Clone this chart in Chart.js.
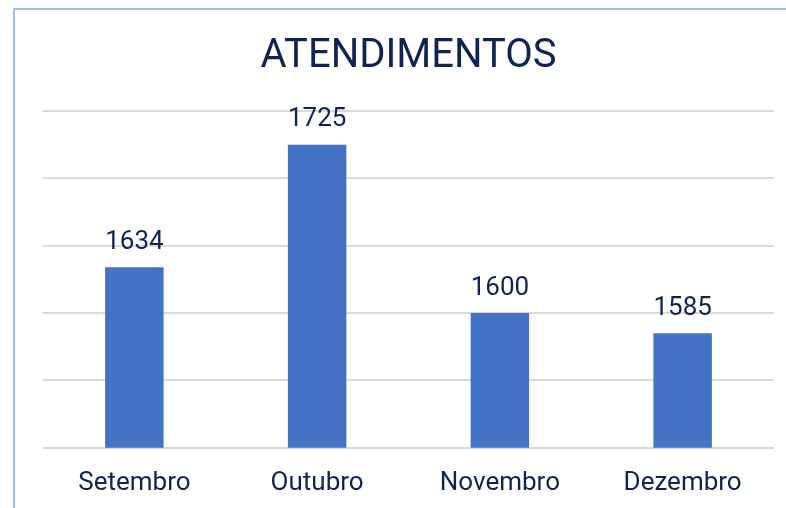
<!DOCTYPE html>
<html>
<head>
<meta charset="utf-8">
<script src="https://cdn.jsdelivr.net/npm/chart.js@4"></script>
<style>
body{margin:0;background:#fff;overflow:hidden;}
#frame{position:absolute;left:13px;top:8px;width:800px;height:520px;border-left:2px solid #9dbcf4;border-top:2px solid #9dbcf4;}
#chart{position:absolute;left:0;top:0;}
</style>
</head>
<body>
<div id="frame"></div>
<canvas id="chart" width="786" height="508"></canvas>
<script>
const months = ["Setembro", "Outubro", "Novembro", "Dezembro"];
const atendimentos = [1634, 1725, 1600, 1585];
const yMin = 1500;
const yMax = 1750;
const yStep = 50;

const navy = "#0f2454";

// draws the number above each bar
const valueLabels = {
id: "valueLabels",
afterDatasetsDraw(chart){
const c = chart.ctx;
const meta = chart.getDatasetMeta(0);
c.save();
c.font = "26px Roboto";
c.fillStyle = navy;
c.textAlign = "center";
c.textBaseline = "bottom";
meta.data.forEach((bar, i) => {
c.fillText(String(atendimentos[i]), bar.x, bar.y - 12);
});
c.restore();
}
};

const ctx =
document
.getElementById("chart");

const chart =
new Chart(ctx,{
type:"bar",
data:{
labels:months,
datasets:[{
label:"Atendimentos",
data:atendimentos,
backgroundColor:"#4472c4",
barPercentage:1,
categoryPercentage:0.32
}]
},
options:{
responsive:false,
animation:false,
layout:{
padding:{left:43,right:12,top:0,bottom:-3}
},
plugins:{
legend:{display:false},
tooltip:{enabled:false},
title:{
display:true,
text:"ATENDIMENTOS",
color:navy,
font:{family:"Roboto",size:40,weight:"normal"},
padding:{top:33,bottom:30}
}
},
scales:{
x:{
grid:{display:false},
border:{display:false},
ticks:{
color:navy,
font:{family:"Roboto",size:26},
padding:12
}
},
y:{
min:yMin,
max:yMax,
ticks:{display:false,stepSize:yStep},
border:{display:false},
grid:{color:"#d9d9d9",lineWidth:2,drawTicks:false}
}
}
},
plugins:[valueLabels]
});
</script>
</body>
</html>
